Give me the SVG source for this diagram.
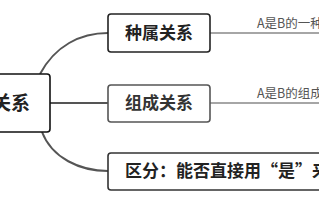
<svg xmlns="http://www.w3.org/2000/svg" width="319" height="200" viewBox="0 0 319 200">
<style>
.box{fill:#fff;stroke:#333;stroke-width:1.6}
.t{font-family:"Noto Sans CJK SC","Noto Sans",sans-serif;font-weight:bold;fill:#222}
.note{font-family:"Noto Sans CJK SC","Noto Sans",sans-serif;font-size:12.5px;fill:#555}
.c{fill:none;stroke:#555;stroke-width:2}
.l{fill:none;stroke:#888;stroke-width:1.5}
</style>
<rect width="319" height="200" fill="#fff"/>
<g id="connectors">
<path class="c" d="M40,74 C55,46 80,33 108,33"/>
<path class="c" d="M50,103 L108,103"/>
<path class="c" d="M42,132 C52,158 80,171 108,171"/>
<path class="l" d="M210,33 L319,33"/>
<path class="l" d="M210,103 L319,103"/>
</g>
<g id="main">
<rect class="box" x="-20" y="74" width="70" height="58" rx="3" stroke-width="2.2" style="stroke:#111"/>
<text class="t" x="30" y="110" font-size="19" text-anchor="end">关系</text>
</g>
<g id="n1">
<rect class="box" x="108" y="14" width="102" height="38" rx="3" style="stroke:#222"/>
<text class="t" x="159" y="39" font-size="17" text-anchor="middle">种属关系</text>
</g>
<g id="n2">
<rect class="box" x="108" y="85" width="102" height="37" rx="3" style="stroke:#555"/>
<text class="t" x="159" y="109" font-size="17" text-anchor="middle" style="fill:#333">组成关系</text>
</g>
<g id="n3">
<rect class="box" x="108" y="153" width="230" height="37" rx="3"/>
<text class="t" x="125" y="177" font-size="17">区分：能否直接用“是”来</text>
</g>
<g id="notes">
<text class="note" x="257" y="28">A是B的一种</text>
<text class="note" x="257" y="98">A是B的组成</text>
</g>
</svg>
